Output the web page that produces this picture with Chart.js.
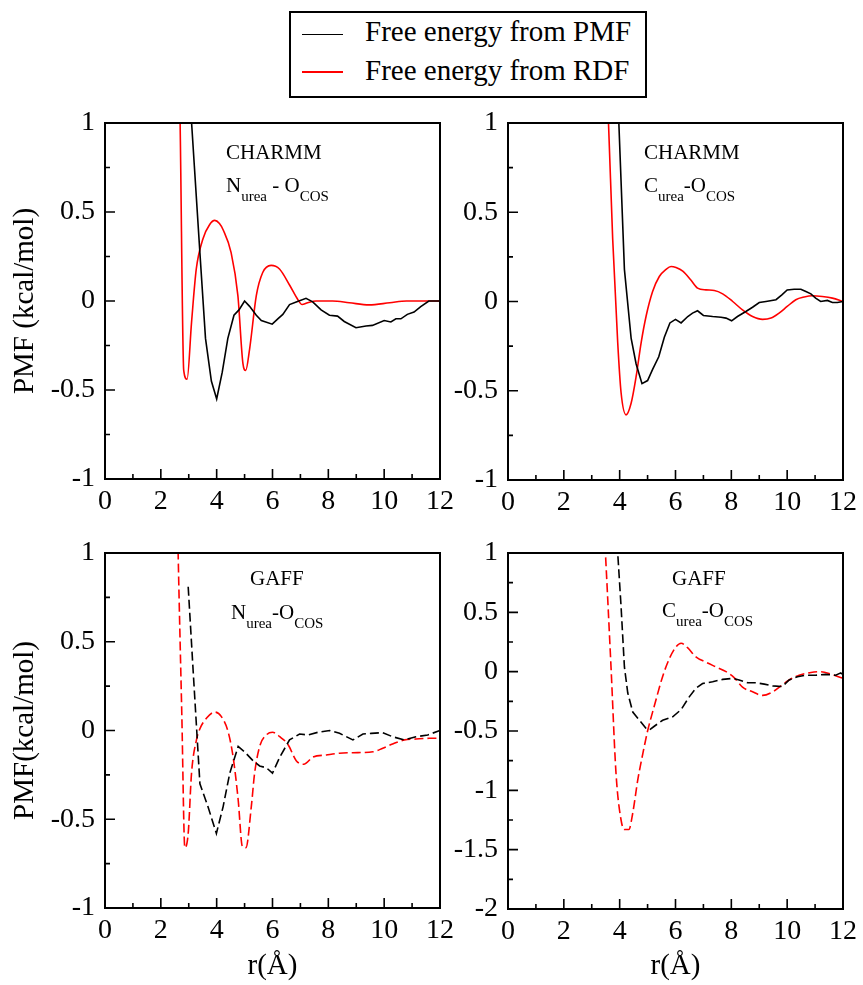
<!DOCTYPE html>
<html>
<head>
<meta charset="utf-8">
<script src="https://cdn.jsdelivr.net/npm/chart.js@4/dist/chart.umd.min.js"></script>
<style>
  html, body { margin:0; padding:0; background:#fff; }
  body { width:863px; height:985px; position:relative; overflow:hidden; font-family:"Liberation Serif","Times New Roman",serif; }
  canvas { position:absolute; }
  .t { position:absolute; white-space:nowrap; line-height:1; color:#000; font-family:"Liberation Serif",serif; }
  .ann { font-size:21px; }
  .sub { font-size:15px; position:relative; top:9px; }
  .leg { font-size:29px; }
  .legbox { position:absolute; border:2px solid #000; }
  .legline { position:absolute; height:1.5px; }
</style>
</head>
<body>
<div class="legbox" style="left:289px; top:11px; width:354px; height:83px;"></div>
<div class="legline" style="left:302px; top:33.5px; width:41px; background:#000;"></div>
<div class="legline" style="left:302px; top:71px; width:41px; background:#ff0000;"></div>
<div class="t leg" id="leg1" style="left:365px; top:17.4px;"></div>
<div class="t leg" id="leg2" style="left:365px; top:55.7px;"></div>

<canvas id="c1" width="460" height="427" style="left:0px; top:93px;"></canvas>
<canvas id="c2" width="460" height="427" style="left:403px; top:93px;"></canvas>
<canvas id="c3" width="460" height="462" style="left:0px; top:523px;"></canvas>
<canvas id="c4" width="460" height="462" style="left:403px; top:523px;"></canvas>

<div class="t ann" style="left:226px; top:141.7px;">CHARMM</div>
<div class="t ann" style="left:226px; top:175.1px;">N<span class="sub">urea</span> - O<span class="sub">COS</span></div>
<div class="t ann" style="left:644px; top:141.7px;">CHARMM</div>
<div class="t ann" style="left:644px; top:175.1px;">C<span class="sub">urea</span>-O<span class="sub">COS</span></div>
<div class="t ann" style="left:250px; top:568.4px;">GAFF</div>
<div class="t ann" style="left:231px; top:602.4px;">N<span class="sub">urea</span>-O<span class="sub">COS</span></div>
<div class="t ann" style="left:672px; top:568.1px;">GAFF</div>
<div class="t ann" style="left:662px; top:599.7px;">C<span class="sub">urea</span>-O<span class="sub">COS</span></div>

<script>
// ---------- legend / labels ----------
const legendLabels = ["Free energy from PMF", "Free energy from RDF"];
const xTitle = "r(Å)";
const yTitleTop = "PMF (kcal/mol)";
const yTitleBottom = "PMF(kcal/mol)";

// ---------- tick values ----------
const xTickValues = [0, 2, 4, 6, 8, 10, 12];
const yTickValuesA = [-1, -0.5, 0, 0.5, 1];
const yTickValuesB = [-2, -1.5, -1, -0.5, 0, 0.5, 1];

// ---------- CHARMM  N_urea - O_COS ----------
const charmmN_pmf_r = [3.0, 3.2, 3.4, 3.6, 3.81, 4.0, 4.2, 4.4, 4.62, 4.8, 5.0, 5.18, 5.42, 5.6, 5.99, 6.19, 6.37, 6.61, 6.85, 7.2, 7.44, 7.74, 8.04, 8.33, 8.57, 8.99, 9.35, 9.58, 10.0, 10.24, 10.42, 10.6, 10.83, 11.07, 11.31, 11.6, 12.0];
const charmmN_pmf_v = [1.25, 0.76, 0.27, -0.21, -0.45, -0.55, -0.40, -0.21, -0.08, -0.05, 0.0, -0.03, -0.08, -0.11, -0.13, -0.10, -0.075, -0.02, -0.006, 0.015, -0.005, -0.05, -0.08, -0.085, -0.115, -0.15, -0.14, -0.137, -0.11, -0.118, -0.1, -0.1, -0.075, -0.062, -0.032, 0.0, 0.0];
const charmmN_rdf_r = [2.6, 2.7, 2.82, 2.94, 3.1, 3.27, 3.51, 3.75, 3.93, 4.1, 4.23, 4.52, 4.76, 4.94, 5.04, 5.18, 5.42, 5.65, 5.95, 6.25, 6.61, 6.9, 7.06, 7.26, 7.56, 8.15, 8.75, 9.46, 10.2, 10.8, 12.0];
const charmmN_rdf_v = [2.0, 0.9, -0.39, -0.44, -0.12, 0.18, 0.35, 0.43, 0.453, 0.435, 0.40, 0.27, 0.03, -0.35, -0.39, -0.27, 0.03, 0.16, 0.20, 0.18, 0.09, 0.01, -0.02, -0.01, 0.0, 0.0, -0.01, -0.022, -0.01, 0.0, 0.0];

// ---------- CHARMM  C_urea - O_COS ----------
const charmmC_pmf_r = [3.9, 4.17, 4.41, 4.59, 4.8, 5.0, 5.18, 5.4, 5.6, 5.8, 6.0, 6.2, 6.44, 6.61, 6.79, 7.0, 7.33, 7.63, 7.81, 8.01, 8.22, 8.52, 8.76, 9.0, 9.24, 9.6, 9.81, 10.0, 10.25, 10.49, 10.67, 10.85, 11.02, 11.2, 11.44, 11.62, 11.8, 12.0];
const charmmC_pmf_v = [1.29, 0.18, -0.205, -0.35, -0.46, -0.443, -0.38, -0.31, -0.2, -0.12, -0.1, -0.12, -0.084, -0.065, -0.052, -0.078, -0.084, -0.088, -0.093, -0.108, -0.084, -0.056, -0.032, -0.006, 0.0, 0.01, 0.037, 0.065, 0.069, 0.069, 0.056, 0.043, 0.019, 0.0, 0.006, -0.006, -0.006, 0.0];
const charmmC_rdf_r = [3.5, 3.6, 3.75, 3.93, 4.05, 4.23, 4.41, 4.59, 4.77, 4.95, 5.18, 5.42, 5.66, 5.84, 6.02, 6.26, 6.55, 6.79, 7.09, 7.39, 7.69, 8.05, 8.4, 8.76, 9.12, 9.42, 9.71, 10.0, 10.31, 10.61, 10.9, 11.26, 11.62, 12.0];
const charmmC_rdf_v = [1.35, 1.0, 0.35, -0.23, -0.51, -0.635, -0.57, -0.42, -0.23, -0.08, 0.056, 0.14, 0.18, 0.196, 0.19, 0.17, 0.12, 0.075, 0.065, 0.062, 0.043, 0.0, -0.047, -0.084, -0.1, -0.093, -0.065, -0.028, 0.01, 0.025, 0.032, 0.028, 0.019, 0.0];

// ---------- GAFF  N_urea - O_COS ----------
const gaffN_pmf_r = [2.98, 3.16, 3.4, 3.69, 3.99, 4.23, 4.47, 4.77, 5.0, 5.3, 5.54, 5.78, 6.0, 6.26, 6.61, 6.97, 7.27, 7.63, 8.05, 8.4, 8.88, 9.24, 9.54, 9.95, 10.3, 10.73, 11.14, 11.56, 12.0];
const gaffN_pmf_v = [0.81, 0.33, -0.30, -0.43, -0.58, -0.43, -0.24, -0.09, -0.12, -0.17, -0.2, -0.21, -0.24, -0.15, -0.053, -0.02, -0.025, -0.01, 0.0, -0.016, -0.053, -0.02, -0.016, -0.012, -0.035, -0.053, -0.035, -0.025, 0.0];
const gaffN_rdf_r = [2.55, 2.62, 2.75, 2.86, 2.98, 3.1, 3.28, 3.4, 3.64, 3.93, 4.17, 4.41, 4.59, 4.77, 4.92, 5.05, 5.24, 5.36, 5.54, 5.78, 6.0, 6.26, 6.56, 6.85, 7.12, 7.45, 7.93, 8.4, 8.88, 9.6, 9.95, 10.3, 10.73, 11.14, 11.62, 12.0];
const gaffN_rdf_v = [1.6, 1.0, 0.1, -0.66, -0.58, -0.24, -0.05, 0.01, 0.07, 0.104, 0.078, -0.007, -0.15, -0.39, -0.653, -0.66, -0.43, -0.24, -0.09, -0.025, -0.01, -0.035, -0.08, -0.17, -0.19, -0.15, -0.138, -0.128, -0.125, -0.12, -0.1, -0.076, -0.053, -0.048, -0.044, -0.044];

// ---------- GAFF  C_urea - O_COS ----------
const gaffC_pmf_r = [3.85, 3.93, 4.05, 4.17, 4.29, 4.47, 4.71, 4.95, 5.07, 5.24, 5.54, 5.9, 6.2, 6.5, 6.73, 6.97, 7.33, 7.69, 8.05, 8.28, 8.58, 8.88, 9.18, 9.48, 9.83, 10.07, 10.37, 10.67, 11.02, 11.38, 11.74, 11.92, 12.0];
const gaffC_pmf_v = [1.3, 1.0, 0.55, 0.04, -0.18, -0.34, -0.41, -0.48, -0.49, -0.46, -0.41, -0.38, -0.32, -0.21, -0.14, -0.1, -0.085, -0.065, -0.057, -0.07, -0.093, -0.093, -0.105, -0.12, -0.125, -0.07, -0.043, -0.03, -0.03, -0.023, -0.03, -0.01, -0.03];
const gaffC_rdf_r = [3.4, 3.49, 3.69, 3.87, 4.05, 4.17, 4.33, 4.47, 4.65, 4.83, 5.0, 5.24, 5.54, 5.78, 6.02, 6.2, 6.44, 6.73, 7.09, 7.45, 7.81, 8.1, 8.4, 8.76, 9.12, 9.48, 9.83, 10.07, 10.43, 10.79, 11.14, 11.5, 12.0];
const gaffC_rdf_v = [1.4, 1.0, 0.04, -0.86, -1.25, -1.33, -1.33, -1.19, -0.91, -0.69, -0.5, -0.29, -0.04, 0.11, 0.21, 0.24, 0.2, 0.125, 0.08, 0.04, 0.0, -0.05, -0.13, -0.17, -0.2, -0.17, -0.11, -0.07, -0.03, -0.01, 0.0, -0.015, -0.057];

// ---------- helpers ----------
document.getElementById('leg1').textContent = legendLabels[0];
document.getElementById('leg2').textContent = legendLabels[1];

const FONT = "'Liberation Serif', 'Times New Roman', serif";

function pts(rs, vs) { return rs.map((r, i) => ({ x: r, y: vs[i] })); }

const framePlugin = {
  id: 'frameTicks',
  afterDatasetsDraw(chart) {
    const { ctx, chartArea: a, scales: { x, y } } = chart;
    ctx.save();
    ctx.strokeStyle = '#000';
    ctx.lineWidth = 1.6;
    ctx.beginPath();
    const xv = x.ticks.map(t => t.value);
    for (let i = 0; i < xv.length; i++) {
      const px = x.getPixelForValue(xv[i]);
      ctx.moveTo(px, a.bottom); ctx.lineTo(px, a.bottom - 10);
      if (i < xv.length - 1) {
        const pm = x.getPixelForValue((xv[i] + xv[i + 1]) / 2);
        ctx.moveTo(pm, a.bottom); ctx.lineTo(pm, a.bottom - 5);
      }
    }
    const yv = y.ticks.map(t => t.value);
    for (let i = 0; i < yv.length; i++) {
      const py = y.getPixelForValue(yv[i]);
      ctx.moveTo(a.left, py); ctx.lineTo(a.left + 10, py);
      if (i < yv.length - 1) {
        const pm = y.getPixelForValue((yv[i] + yv[i + 1]) / 2);
        ctx.moveTo(a.left, pm); ctx.lineTo(a.left + 5, pm);
      }
    }
    ctx.stroke();
    ctx.lineWidth = 2;
    ctx.strokeRect(a.left, a.top, a.right - a.left, a.bottom - a.top);
    ctx.restore();
  }
};

function makeChart(id, pmf, rdf, dashed, yMin, yMax, yTicks, xHeight, yTitle, showXTitle) {
  const dash = dashed ? [9, 4] : [];
  new Chart(document.getElementById(id), {
    type: 'line',
    data: {
      datasets: [
        { label: legendLabels[0], data: pmf, borderColor: '#000000', borderWidth: 1.6, borderDash: dash, pointRadius: 0, tension: 0, fill: false },
        { label: legendLabels[1], data: rdf, borderColor: '#ff0000', borderWidth: 1.6, borderDash: dash, pointRadius: 0, cubicInterpolationMode: 'monotone', fill: false }
      ]
    },
    options: {
      responsive: false,
      animation: false,
      layout: { padding: { top: 30, right: 19, left: 0, bottom: 0 } },
      plugins: { legend: { display: false }, tooltip: { enabled: false } },
      scales: {
        x: {
          type: 'linear', min: 0, max: 12,
          afterBuildTicks: s => { s.ticks = xTickValues.map(v => ({ value: v })); },
          afterFit: s => { s.height = xHeight; },
          grid: { display: false, drawTicks: false },
          border: { display: false },
          ticks: { color: '#000', padding: 6, font: { family: FONT, size: 28 }, maxRotation: 0, callback: v => String(v) },
          title: { display: showXTitle, text: xTitle, color: '#000', font: { family: FONT, size: 29 }, padding: { top: 0, bottom: 1 } }
        },
        y: {
          type: 'linear', min: yMin, max: yMax,
          afterBuildTicks: s => { s.ticks = yTicks.map(v => ({ value: v })); },
          afterFit: s => { s.width = 105; },
          grid: { display: false, drawTicks: false },
          border: { display: false },
          ticks: { color: '#000', padding: 10, font: { family: FONT, size: 28 }, callback: v => String(v) },
          title: { display: !!yTitle, text: yTitle || '', color: '#000', font: { family: FONT, size: 29 }, padding: { top: 8, bottom: 0 } }
        }
      }
    },
    plugins: [framePlugin]
  });
}

makeChart('c1', pts(charmmN_pmf_r, charmmN_pmf_v), pts(charmmN_rdf_r, charmmN_rdf_v), false, -1, 1, yTickValuesA, 41, yTitleTop, false);
makeChart('c2', pts(charmmC_pmf_r, charmmC_pmf_v), pts(charmmC_rdf_r, charmmC_rdf_v), false, -1, 1, yTickValuesA, 40, null, false);
makeChart('c3', pts(gaffN_pmf_r, gaffN_pmf_v), pts(gaffN_rdf_r, gaffN_rdf_v), true, -1, 1, yTickValuesA, 77, yTitleBottom, true);
makeChart('c4', pts(gaffC_pmf_r, gaffC_pmf_v), pts(gaffC_rdf_r, gaffC_rdf_v), true, -2, 1, yTickValuesB, 76, null, true);
</script>
</body>
</html>
